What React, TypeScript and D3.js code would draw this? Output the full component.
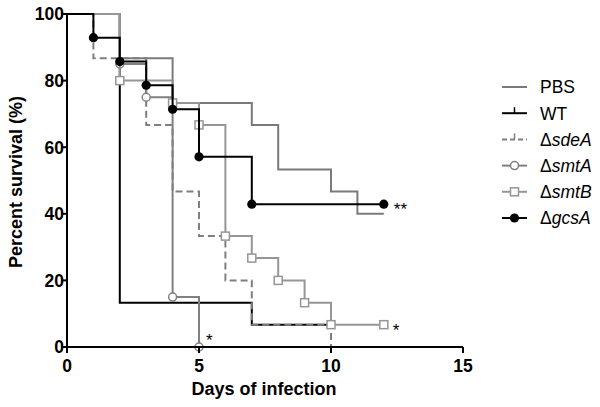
import React from "react";
import * as d3 from "d3";

// ---- Data (Kaplan–Meier steps: day, percent survival) ----
const pbsDays = [0, 2, 4, 7, 8, 10, 11, 12];
const pbsSurv = [100, 86.7, 73.3, 66.7, 53.3, 46.7, 40, 40];

const wtDays = [0, 2, 7, 10];
const wtSurv = [100, 13.3, 6.7, 6.7];

const sdeADays = [0, 1, 3, 4, 5, 6, 7, 10];
const sdeASurv = [100, 86.7, 66.7, 46.7, 33.3, 20, 6.7, 0];

const smtADays = [0, 2, 3, 4, 5];
const smtASurv = [100, 85, 75, 15, 0];

const smtBDays = [0, 2, 4, 5, 6, 7, 8, 9, 10, 12];
const smtBSurv = [100, 80, 73.3, 66.7, 33.3, 26.7, 20, 13.3, 6.7, 6.7];

const gcsADays = [0, 1, 2, 3, 4, 5, 7, 12];
const gcsASurv = [100, 92.9, 85.7, 78.6, 71.4, 57.1, 42.9, 42.9];

const xTicks = [0, 5, 10, 15];
const yTicks = [0, 20, 40, 60, 80, 100];

const legendNames = ["PBS", "WT", "sdeA", "smtA", "smtB", "gcsA"];

type Series = {
  name: string;
  days: number[];
  surv: number[];
  color: string;
  dash?: string;
  marker: "none" | "circle" | "square" | "dot" | "tick";
};

const series: Series[] = [
  { name: "WT", days: wtDays, surv: wtSurv, color: "#000", marker: "none" },
  { name: "PBS", days: pbsDays, surv: pbsSurv, color: "#7a7a7a", marker: "none" },
  { name: "sdeA", days: sdeADays, surv: sdeASurv, color: "#7f7f7f", dash: "7,4", marker: "none" },
  { name: "smtA", days: smtADays, surv: smtASurv, color: "#808080", marker: "circle" },
  { name: "smtB", days: smtBDays, surv: smtBSurv, color: "#969696", marker: "square" },
  { name: "gcsA", days: gcsADays, surv: gcsASurv, color: "#000", marker: "dot" },
];

const FONT = "'Liberation Sans', Arial, sans-serif";

export default function App() {
  const x = d3.scaleLinear().domain([0, 15]).range([67, 463]);
  const y = d3.scaleLinear().domain([0, 100]).range([347, 14]);
  const line = d3
    .line<[number, number]>()
    .x((d) => x(d[0]))
    .y((d) => y(d[1]))
    .curve(d3.curveStepAfter);

  const marker = (s: Series, px: number, py: number, key: string) => {
    if (s.marker === "circle")
      return <circle key={key} cx={px} cy={py} r={4} fill="white" stroke={s.color} strokeWidth={1.5} />;
    if (s.marker === "square")
      return <rect key={key} x={px - 4} y={py - 4} width={8} height={8} fill="white" stroke={s.color} strokeWidth={1.5} />;
    if (s.marker === "dot") return <circle key={key} cx={px} cy={py} r={4.6} fill="#000" />;
    return null;
  };

  const legendStyle: Record<string, Series> = {};
  series.forEach((s) => (legendStyle[s.name] = s));

  return (
    <svg
      width={600}
      height={407}
      style={{ position: "absolute", left: 0, top: 0, background: "white" }}
      fontFamily={FONT}
    >
      <rect x={0} y={0} width={600} height={407} fill="white" />
      {/* curves */}
      {series.map((s) => {
        const pts: [number, number][] = s.days.map((d, i) => [d, s.surv[i]]);
        return (
          <g key={s.name}>
            <path d={line(pts) || ""} fill="none" stroke={s.color} strokeWidth={2} strokeDasharray={s.dash} />
            {s.days.map((d, i) => (i === 0 ? null : marker(s, x(d), y(s.surv[i]), s.name + i)))}
          </g>
        );
      })}

      {/* axes */}
      <line x1={x(0)} x2={x(15)} y1={y(0)} y2={y(0)} stroke="#000" strokeWidth={2} />
      <line x1={x(0)} x2={x(0)} y1={y(0)} y2={y(100)} stroke="#000" strokeWidth={2} />
      {xTicks.map((t) => (
        <g key={"xt" + t}>
          <line x1={x(t)} x2={x(t)} y1={y(0)} y2={y(0) + 6} stroke="#000" strokeWidth={2} />
          <text x={x(t)} y={372} textAnchor="middle" fontSize={17.5} fontWeight="bold">
            {t}
          </text>
        </g>
      ))}
      {yTicks.map((t) => (
        <g key={"yt" + t}>
          <line x1={x(0) - 6} x2={x(0)} y1={y(t)} y2={y(t)} stroke="#000" strokeWidth={2} />
          <text x={x(0) - 3} y={y(t)} dy="0.36em" textAnchor="end" fontSize={17.5} fontWeight="bold">
            {t}
          </text>
        </g>
      ))}
      <text x={264} y={395} textAnchor="middle" fontSize={18} fontWeight="bold">
        Days of infection
      </text>
      <text
        transform={`translate(22,${182}) rotate(-90)`}
        textAnchor="middle"
        fontSize={18}
        fontWeight="bold"
      >
        Percent survival (%)
      </text>

      {/* significance */}
      <text x={x(5) + 7} y={y(0) - 1} fontSize={17}>*</text>
      <text x={x(12) + 10} y={y(42.9) + 11} fontSize={17}>**</text>
      <text x={x(12) + 9} y={y(6.7) + 11} fontSize={17}>*</text>

      {/* legend */}
      {legendNames.map((n, i) => {
        const s = legendStyle[n];
        const cy = 87 + i * 26.2;
        const lx1 = 502;
        const lx2 = 527;
        const cx = (lx1 + lx2) / 2;
        const isMutant = n !== "PBS" && n !== "WT";
        return (
          <g key={"lg" + n}>
            <line x1={lx1} x2={lx2} y1={cy} y2={cy} stroke={s.color} strokeWidth={2} strokeDasharray={s.dash ? "5,3" : undefined} />
            {(n === "WT" || n === "sdeA") && (
              <line x1={cx} x2={cx} y1={cy} y2={cy - 6} stroke={s.color} strokeWidth={1.5} />
            )}
            {marker(s, cx, cy, "lm" + n)}
            <text x={540} y={cy} dy="0.36em" fontSize={17.5}>
              {isMutant ? (
                <>
                  <tspan>Δ</tspan>
                  <tspan fontStyle="italic">{n}</tspan>
                </>
              ) : (
                n
              )}
            </text>
          </g>
        );
      })}
    </svg>
  );
}
